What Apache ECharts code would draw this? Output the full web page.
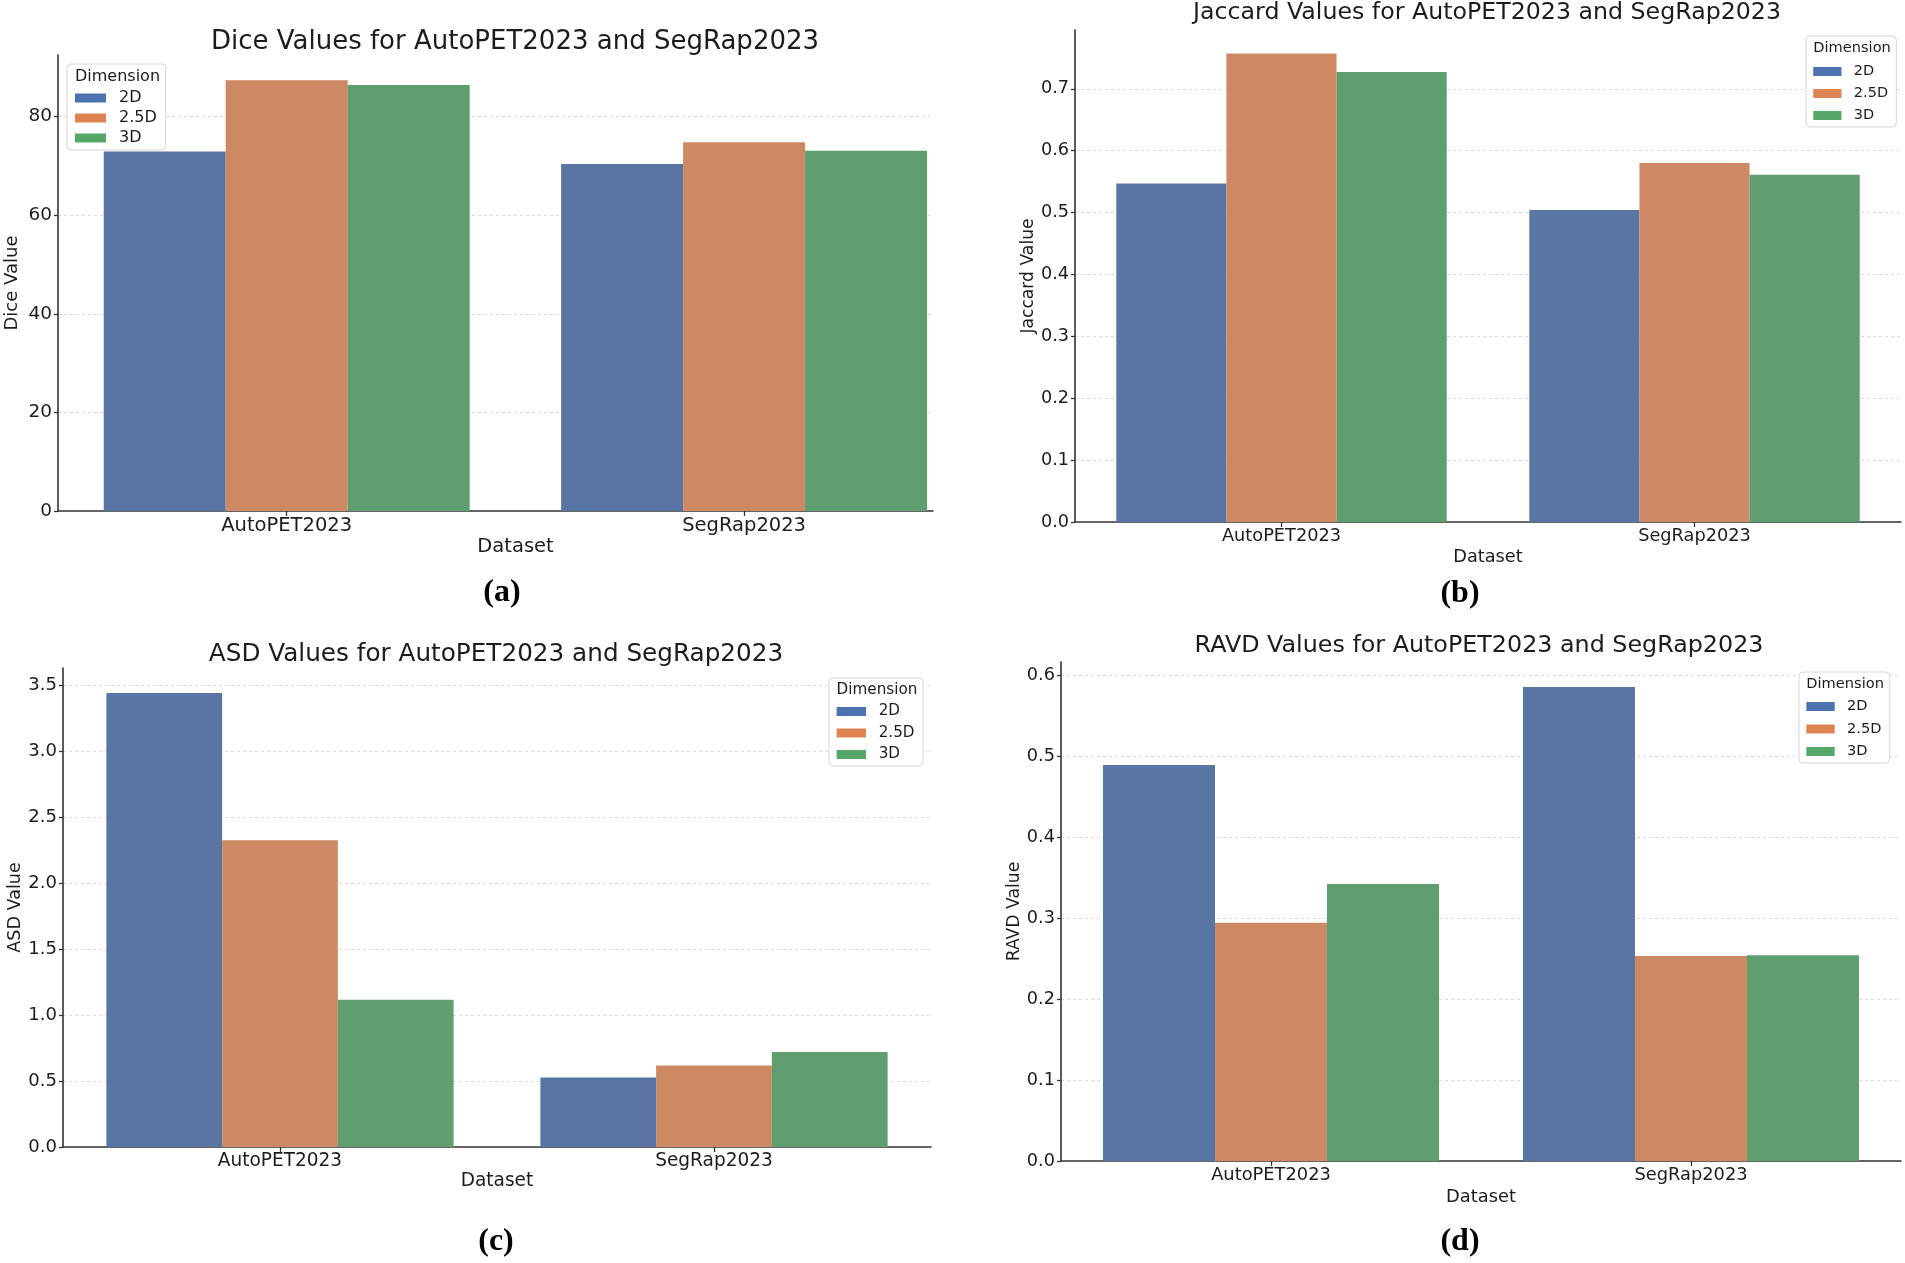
<!DOCTYPE html>
<html><head><meta charset="utf-8">
<script src="https://cdn.jsdelivr.net/npm/echarts@6/dist/echarts.min.js"></script>
<style>html,body{margin:0;padding:0;background:#fff}#c{width:1905px;height:1263px}</style>
</head><body><div id="c"></div>
<script>
// ---- data ----
const categories = ['AutoPET2023', 'SegRap2023'];
const dimensions = ['2D', '2.5D', '3D'];

const dice2D = [72.9, 70.4];
const dice25D = [87.4, 74.8];
const dice3D = [86.4, 73.1];

const jaccard2D = [0.547, 0.504];
const jaccard25D = [0.757, 0.580];
const jaccard3D = [0.727, 0.561];

const asd2D = [3.44, 0.526];
const asd25D = [2.325, 0.618];
const asd3D = [1.116, 0.72];

const ravd2D = [0.489, 0.585];
const ravd25D = [0.294, 0.253];
const ravd3D = [0.342, 0.254];

const diceTicks = [0, 20, 40, 60, 80];
const jaccardTicks = [0, 0.1, 0.2, 0.3, 0.4, 0.5, 0.6, 0.7];
const asdTicks = [0, 0.5, 1.0, 1.5, 2.0, 2.5, 3.0, 3.5];
const ravdTicks = [0, 0.1, 0.2, 0.3, 0.4, 0.5, 0.6];

const titles = [
  'Dice Values for AutoPET2023 and SegRap2023',
  'Jaccard Values for AutoPET2023 and SegRap2023',
  'ASD Values for AutoPET2023 and SegRap2023',
  'RAVD Values for AutoPET2023 and SegRap2023'
];
const yNames = ['Dice Value', 'Jaccard Value', 'ASD Value', 'RAVD Value'];
const xName = 'Dataset';
const legendTitle = 'Dimension';
const panelLabels = ['(a)', '(b)', '(c)', '(d)'];

const panelValues = [
  [dice2D, dice25D, dice3D],
  [jaccard2D, jaccard25D, jaccard3D],
  [asd2D, asd25D, asd3D],
  [ravd2D, ravd25D, ravd3D]
];
const panelTicks = [diceTicks, jaccardTicks, asdTicks, ravdTicks];

// ---- styling / layout ----
const barColors = ['#5975a4', '#cc8963', '#5f9e6e'];
const legendColors = ['#4c72b0', '#dd8452', '#55a868'];
const FONT = 'DejaVu Sans';
const TXT = '#1c1c1c';
// f = text scale of each sub-figure
const L = [
  {f: 1.0,  x0: 58, x1: 933, y0: 55, y1: 511, xmax: 1.413, ymax: 92.5, dec: 0, tx: 515, ty: 42, lx: 67, ly: 64, lgGap: 4, lgTop: 26, px: 502, py: 593, xGap: 24, xPad: 40, yGap: 37},
  {f: 0.91, x0: 1075, x1: 1901, y0: 30, y1: 522, xmax: 1.5, ymax: 0.795, dec: 1, tx: 1487, ty: 13, lx: 1806, ly: 36, lgGap: 7, lgTop: 28, px: 1460, py: 594, xGap: 26, xPad: 0, yGap: 38},
  {f: 0.95, x0: 63, x1: 931, y0: 668, y1: 1147, xmax: 1.5, ymax: 3.63, dec: 1, tx: 496, ty: 655, lx: 829, ly: 678, lgGap: 6.5, lgTop: 26, px: 496, py: 1242, xGap: 24, xPad: 0, yGap: 38},
  {f: 0.915, x0: 1061, x1: 1901, y0: 662, y1: 1161, xmax: 1.5, ymax: 0.616, dec: 1, tx: 1479, ty: 646, lx: 1799, ly: 672, lgGap: 7.5, lgTop: 27, px: 1460, py: 1242, xGap: 27, xPad: 0, yGap: 38}
];

const chart = echarts.init(document.getElementById('c'), null, {renderer: 'canvas'});

const grid = L.map(p => ({left: p.x0, top: p.y0, width: p.x1 - p.x0, height: p.y1 - p.y0, containLabel: false}));

const xAxis = L.map((p, i) => ({
  type: 'value', gridIndex: i, min: -0.5, max: p.xmax,
  axisLine: {show: true, onZero: false, lineStyle: {color: '#333', width: 1.6}},
  axisTick: {show: true, customValues: [0, 1], length: 5, lineStyle: {color: '#333', width: 1.3}},
  axisLabel: {customValues: [0, 1], formatter: v => categories[Math.round(v)], fontFamily: FONT, fontSize: 19.5 * p.f, color: TXT, margin: 5},
  splitLine: {show: false},
  name: xName, nameLocation: 'middle', nameGap: p.xGap,
  nameTextStyle: {fontFamily: FONT, fontSize: 19.5 * p.f, color: TXT, padding: [0, 0, 0, p.xPad]}
}));

const yAxis = L.map((p, i) => ({
  type: 'value', gridIndex: i, min: 0, max: p.ymax,
  axisLine: {show: true, onZero: false, lineStyle: {color: '#333', width: 1.6}},
  axisTick: {show: true, customValues: panelTicks[i], length: 4, lineStyle: {color: '#333', width: 1.3}},
  axisLabel: {customValues: panelTicks[i], formatter: v => v.toFixed(p.dec), fontFamily: FONT, fontSize: 18.5 * Math.sqrt(p.f), color: TXT, margin: 6},
  splitLine: {show: true, showMinLine: false, lineStyle: {color: '#dadada', type: [3, 3], width: 1}},
  name: yNames[i], nameLocation: 'middle', nameRotate: 90, nameGap: p.yGap,
  nameTextStyle: {fontFamily: FONT, fontSize: 18 * Math.sqrt(p.f), color: TXT}
}));

const series = [];
panelValues.forEach((vals, i) => {
  vals.forEach((arr, k) => {
    series.push({
      type: 'bar', name: dimensions[k], xAxisIndex: i, yAxisIndex: i,
      data: arr.map((v, j) => [j, v]),
      barGap: '0%', barCategoryGap: '20%',
      itemStyle: {color: barColors[k]},
      emphasis: {disabled: true}, animation: false
    });
  });
});

const legend = L.map(p => ({
  orient: 'vertical', left: p.lx, top: p.ly, padding: [p.lgTop, 9 * p.f, 4, 8 * p.f],
  itemGap: p.lgGap, itemWidth: 31 * p.f, itemHeight: 9, icon: 'rect',
  borderColor: '#d5d5d5', borderWidth: 1, borderRadius: 4, backgroundColor: 'rgba(255,255,255,0.9)',
  textStyle: {fontFamily: FONT, fontSize: 16 * p.f, color: TXT, padding: [0, 0, 0, 8 * p.f]},
  selectedMode: false,
  data: dimensions.map((d, k) => ({name: d, itemStyle: {color: legendColors[k]}}))
}));

const graphic = [];
L.forEach((p, i) => {
  graphic.push({type: 'text', z: 100, style: {text: titles[i], x: p.tx, y: p.ty, textAlign: 'center', textVerticalAlign: 'middle', font: (26 * p.f).toFixed(1) + 'px "DejaVu Sans"', fill: TXT}});
  graphic.push({type: 'text', z: 100, style: {text: legendTitle, x: p.lx + 8 * p.f, y: p.ly + 13 * p.f, textAlign: 'left', textVerticalAlign: 'middle', font: (16 * p.f).toFixed(1) + 'px "DejaVu Sans"', fill: TXT}});
  graphic.push({type: 'text', z: 100, style: {text: panelLabels[i], x: p.px, y: p.py, textAlign: 'center', textVerticalAlign: 'middle', font: 'bold 32px "Liberation Serif"', fill: '#000'}});
});

chart.setOption({
  backgroundColor: '#fff',
  animation: false,
  grid, xAxis, yAxis, series, legend, graphic
});
</script>
</body></html>
